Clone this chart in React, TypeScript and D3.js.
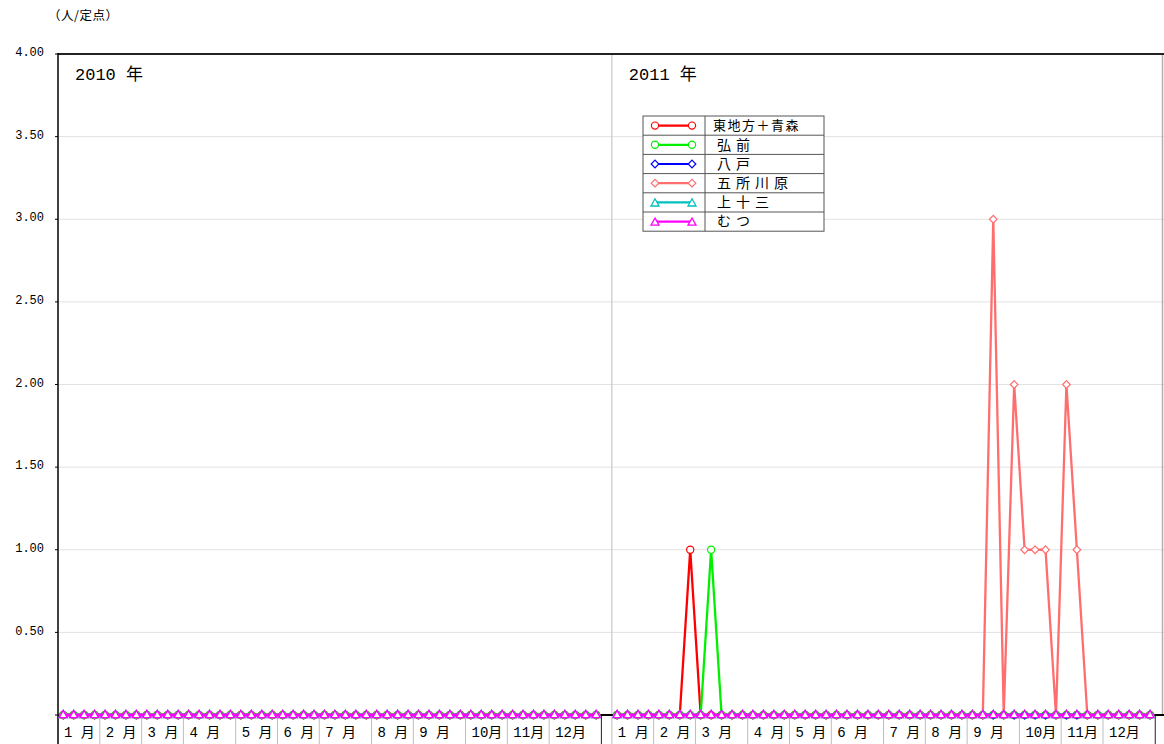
import React from 'react';
import * as d3 from 'd3';

const yearLabels = ['2010 年', '2011 年'];
const monthLabels = ['1 月', '2 月', '3 月', '4 月', '5 月', '6 月', '7 月', '8 月', '9 月', '10月', '11月', '12月'];
const weeksPerMonth2010 = [4, 4, 4, 5, 4, 4, 5, 4, 5, 4, 4, 5];
const weeksPerMonth2011 = [4, 4, 5, 4, 4, 5, 4, 4, 5, 4, 4, 5];
const yTicks = [0.5, 1, 1.5, 2, 2.5, 3, 3.5, 4];
const yTickLabels = ['0.50', '1.00', '1.50', '2.00', '2.50', '3.00', '3.50', '4.00'];

const seriesNames = ['東地方＋青森', '弘前', '八戸', '五所川原', '上十三', 'むつ'];
const seriesColors = ['#ff0000', '#00f000', '#0000ff', '#ff6e6e', '#00c0c0', '#ff00ff'];
const seriesShapes = ['circle', 'circle', 'diamond', 'diamond', 'triangle', 'triangle'];

// 2010 (52 weeks)
const red2010 = [0,0,0,0,0,0,0,0,0,0,0,0,0, 0,0,0,0,0,0,0,0,0,0,0,0,0, 0,0,0,0,0,0,0,0,0,0,0,0,0, 0,0,0,0,0,0,0,0,0,0,0,0,0];
const green2010 = [0,0,0,0,0,0,0,0,0,0,0,0,0, 0,0,0,0,0,0,0,0,0,0,0,0,0, 0,0,0,0,0,0,0,0,0,0,0,0,0, 0,0,0,0,0,0,0,0,0,0,0,0,0];
const blue2010 = [0,0,0,0,0,0,0,0,0,0,0,0,0, 0,0,0,0,0,0,0,0,0,0,0,0,0, 0,0,0,0,0,0,0,0,0,0,0,0,0, 0,0,0,0,0,0,0,0,0,0,0,0,0];
const pink2010 = [0,0,0,0,0,0,0,0,0,0,0,0,0, 0,0,0,0,0,0,0,0,0,0,0,0,0, 0,0,0,0,0,0,0,0,0,0,0,0,0, 0,0,0,0,0,0,0,0,0,0,0,0,0];
const cyan2010 = [0,0,0,0,0,0,0,0,0,0,0,0,0, 0,0,0,0,0,0,0,0,0,0,0,0,0, 0,0,0,0,0,0,0,0,0,0,0,0,0, 0,0,0,0,0,0,0,0,0,0,0,0,0];
const magenta2010 = [0,0,0,0,0,0,0,0,0,0,0,0,0, 0,0,0,0,0,0,0,0,0,0,0,0,0, 0,0,0,0,0,0,0,0,0,0,0,0,0, 0,0,0,0,0,0,0,0,0,0,0,0,0];

// 2011 (52 weeks)
const red2011 = [0,0,0,0,0,0,0,1,0,0,0,0,0, 0,0,0,0,0,0,0,0,0,0,0,0,0, 0,0,0,0,0,0,0,0,0,0,0,0,0, 0,0,0,0,0,0,0,0,0,0,0,0,0];
const green2011 = [0,0,0,0,0,0,0,0,0,1,0,0,0, 0,0,0,0,0,0,0,0,0,0,0,0,0, 0,0,0,0,0,0,0,0,0,0,0,0,0, 0,0,0,0,0,0,0,0,0,0,0,0,0];
const blue2011 = [0,0,0,0,0,0,0,0,0,0,0,0,0, 0,0,0,0,0,0,0,0,0,0,0,0,0, 0,0,0,0,0,0,0,0,0,0,0,0,0, 0,0,0,0,0,0,0,0,0,0,0,0,0];
const pink2011 = [0,0,0,0,0,0,0,0,0,0,0,0,0, 0,0,0,0,0,0,0,0,0,0,0,0,0, 0,0,0,0,0,0,0,0,0,0,3,0,2, 1,1,1,0,2,1,0,0,0,0,0,0,0];
const cyan2011 = [0,0,0,0,0,0,0,0,0,0,0,0,0, 0,0,0,0,0,0,0,0,0,0,0,0,0, 0,0,0,0,0,0,0,0,0,0,0,0,0, 0,0,0,0,0,0,0,0,0,0,0,0,0];
const magenta2011 = [0,0,0,0,0,0,0,0,0,0,0,0,0, 0,0,0,0,0,0,0,0,0,0,0,0,0, 0,0,0,0,0,0,0,0,0,0,0,0,0, 0,0,0,0,0,0,0,0,0,0,0,0,0];

const seriesData = [
  [red2010, red2011],
  [green2010, green2011],
  [blue2010, blue2011],
  [pink2010, pink2011],
  [cyan2010, cyan2011],
  [magenta2010, magenta2011],
];

const W = 1164;
const H = 744;
const left = 58;
const top = 54;
const bottom = 715;
const slotsPerYear = 53;
const slotW = 10.45;

const x = d3.scaleLinear().domain([0, slotsPerYear * 2]).range([left, left + slotsPerYear * 2 * slotW]);
const y = d3.scaleLinear().domain([0, 4]).range([bottom, top]);

const MONO = '"Liberation Mono", "DejaVu Sans Mono", "Noto Sans CJK JP", monospace';
const CJK = '"Noto Sans CJK JP", "DejaVu Sans", sans-serif';

function Marker({ shape, cx, cy, color }: { shape: string; cx: number; cy: number; color: string }) {
  if (shape === 'circle') {
    return <circle cx={cx} cy={cy} r={3.6} fill="#fff" stroke={color} strokeWidth={1.2} />;
  }
  if (shape === 'diamond') {
    const s = 3.8;
    return (
      <path
        d={`M${cx},${cy - s}L${cx + s},${cy}L${cx},${cy + s}L${cx - s},${cy}Z`}
        fill="#fff"
        stroke={color}
        strokeWidth={1.2}
      />
    );
  }
  const hw = 4, hh = 3.6;
  return (
    <path
      d={`M${cx},${cy - hh}L${cx + hw},${cy + hh}L${cx - hw},${cy + hh}Z`}
      fill="#fff"
      stroke={color}
      strokeWidth={1.3}
    />
  );
}

export default function App() {
  const monthBounds: number[][] = [];
  [weeksPerMonth2010, weeksPerMonth2011].forEach((wpm, yi) => {
    let acc = yi * slotsPerYear;
    const b = [acc];
    wpm.forEach((w) => {
      acc += w;
      b.push(acc);
    });
    monthBounds.push(b);
  });

  const legendX0 = 643, legendX1 = 824, legendDiv = 705, legendY0 = 116, rowH = 19.2;

  return (
    <svg
      width={W}
      height={H}
      style={{ position: 'absolute', left: 0, top: 0, background: '#fff' }}
      xmlns="http://www.w3.org/2000/svg"
    >
      <rect x={0} y={0} width={W} height={H} fill="#fff" />
      {/* unit label */}
      <text x={48} y={20} fontFamily={CJK} fontSize={12.5} fill="#000" letterSpacing={0.5}>
        （人/定点）
      </text>

      {/* gridlines */}
      {yTicks.map((t) => (
        <line key={'g' + t} x1={left} x2={W} y1={y(t)} y2={y(t)} stroke="#e2e2e2" strokeWidth={1} />
      ))}

      {/* y ticks and labels */}
      {yTicks.map((t, i) => (
        <g key={'yt' + t}>
          <line x1={left - 3} x2={left} y1={y(t)} y2={y(t)} stroke="#000" />
          <text
            x={44}
            y={y(t) - 1}
            textAnchor="end"
            dominantBaseline="middle"
            fontFamily={MONO}
            fontSize={12}
            fill="#000"
          >
            {yTickLabels[i]}
          </text>
        </g>
      ))}
      <line x1={left - 3} x2={left} y1={bottom} y2={bottom} stroke="#000" />

      {/* month separators and labels */}
      {monthBounds.map((b, yi) => (
        <g key={'mb' + yi}>
          {b.map((s, j) =>
            j === 0 ? null : (
              <line
                key={'ms' + j}
                x1={x(s)}
                x2={x(s)}
                y1={bottom}
                y2={H}
                stroke={j === b.length - 1 ? '#222' : '#bdbdbd'}
                strokeWidth={1}
              />
            )
          )}
          {b.slice(0, -1).map((s, j) => (
            <text key={'ml' + j} x={x(s) + 6} y={737} fontFamily={MONO} fontSize={14} fill="#000">
              {monthLabels[j]}
            </text>
          ))}
        </g>
      ))}

      {/* year divider */}
      <line x1={x(slotsPerYear)} x2={x(slotsPerYear)} y1={top} y2={H} stroke="#c8c8c8" strokeWidth={1.2} />
      {/* right border */}
      <line x1={1162.5} x2={1162.5} y1={top} y2={bottom} stroke="#b0b0b0" strokeWidth={1.5} />

      {/* year labels */}
      {yearLabels.map((lab, yi) => (
        <text
          key={lab}
          x={x(yi * slotsPerYear) + 17}
          y={80}
          fontFamily={MONO}
          fontSize={17}
          fill="#000"
        >
          {lab}
        </text>
      ))}

      {/* axes */}
      <line x1={left} x2={W} y1={bottom} y2={bottom} stroke="#000" strokeWidth={2} />
      <line x1={left} x2={W} y1={top} y2={top} stroke="#222" strokeWidth={2} />
      <line x1={left} x2={left} y1={top - 1} y2={H} stroke="#000" strokeWidth={1.5} />

      {/* series */}
      {seriesData.map((yearsData, si) => (
        <g key={'s' + si}>
          {yearsData.map((vals, yi) => {
            const pts = vals.map((v, i) => [x(yi * slotsPerYear + i + 0.5), y(v)] as [number, number]);
            const path = d3.line()(pts) || '';
            return (
              <g key={'y' + yi}>
                <path d={path} fill="none" stroke={seriesColors[si]} strokeWidth={2.3} />
                {pts.map((p, i) => (
                  <Marker
                    key={i}
                    shape={seriesShapes[si]}
                    cx={p[0]}
                    cy={p[1] - (seriesShapes[si] === 'triangle' ? 1 : 0)}
                    color={seriesColors[si]}
                  />
                ))}
              </g>
            );
          })}
        </g>
      ))}

      {/* legend */}
      <g>
        <rect
          x={legendX0}
          y={legendY0}
          width={legendX1 - legendX0}
          height={rowH * seriesNames.length}
          fill="#fff"
          stroke="#555"
          strokeWidth={1}
        />
        <line x1={legendDiv} x2={legendDiv} y1={legendY0} y2={legendY0 + rowH * seriesNames.length} stroke="#555" />
        {seriesNames.map((name, i) => {
          const cy = legendY0 + rowH * (i + 0.5);
          return (
            <g key={name}>
              {i > 0 && (
                <line x1={legendX0} x2={legendX1} y1={legendY0 + rowH * i} y2={legendY0 + rowH * i} stroke="#555" />
              )}
              <line x1={655} x2={692} y1={cy} y2={cy} stroke={seriesColors[i]} strokeWidth={2.2} />
              <Marker shape={seriesShapes[i]} cx={655} cy={cy} color={seriesColors[i]} />
              <Marker shape={seriesShapes[i]} cx={692} cy={cy} color={seriesColors[i]} />
              <text
                x={i === 0 ? 713 : 717}
                y={cy + 1}
                dominantBaseline="middle"
                fontFamily={CJK}
                fontSize={i === 0 ? 13 : 14}
                letterSpacing={i === 0 ? 1.5 : 5}
                fill="#000"
              >
                {name}
              </text>
            </g>
          );
        })}
      </g>
    </svg>
  );
}
